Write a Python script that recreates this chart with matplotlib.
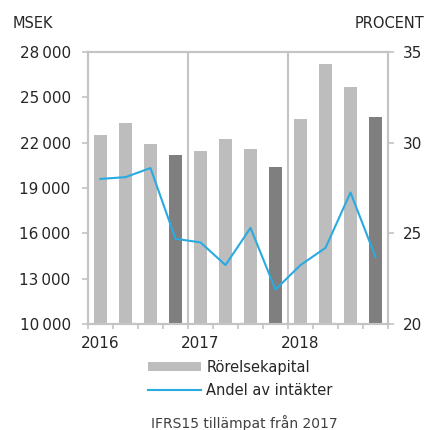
import matplotlib
matplotlib.use("Agg")
import matplotlib.pyplot as plt
from matplotlib.patches import Patch
from matplotlib.lines import Line2D

# quarterly data, 2016 Q1 .. 2018 Q4
quarters = ["Q1 16", "Q2 16", "Q3 16", "Q4 16",
            "Q1 17", "Q2 17", "Q3 17", "Q4 17",
            "Q1 18", "Q2 18", "Q3 18", "Q4 18"]
rorelsekapital = [22500, 23300, 21900, 21200,
                  21450, 22250, 21600, 20400,
                  23550, 27200, 25700, 23700]
andel_intakter = [28.0, 28.1, 28.6, 24.7,
                  24.5, 23.25, 25.3, 21.9,
                  23.25, 24.2, 27.25, 23.7]
year_labels = ["2016", "2017", "2018"]
left_ticks = [10000, 13000, 16000, 19000, 22000, 25000, 28000]
right_ticks = [20, 25, 30, 35]

light = "#bdbdbd"
dark = "#7f7f7f"
blue = "#29abe2"
axis_col = "#c4c4c4"
txt = "#262626"

plt.rcParams["font.family"] = ["DejaVu Sans"]

fig = plt.figure(figsize=(4.29, 4.30), dpi=100)
ax = fig.add_axes([88 / 429, 1 - 324 / 430, 300 / 429, 272 / 430])

x = list(range(len(quarters)))
colors = [dark if i % 4 == 3 else light for i in x]
ax.bar(x, rorelsekapital, width=0.52, color=colors, zorder=2)

ax.set_xlim(-0.5, len(quarters) - 0.5)
ax.set_ylim(10000, 28000)
ax.set_yticks(left_ticks)
ax.set_yticklabels([f"{v:,}".replace(",", "\u2009") for v in left_ticks])
ax.set_xticks([0, 4, 8])
ax.set_xticklabels(year_labels)
ax.set_xticks([i - 0.5 for i in range(len(quarters) + 1)], minor=True)
ax.tick_params(axis="x", which="major", length=0, pad=9, labelsize=11, colors=txt)
ax.tick_params(axis="x", which="minor", length=3.5, width=1.2, color=axis_col)
ax.tick_params(axis="y", length=4.5, width=1.2, color=axis_col, labelsize=11,
               labelcolor=txt, pad=8)

for s in ax.spines.values():
    s.set_color(axis_col)
    s.set_linewidth(1.5)

for sep in [3.5, 7.5]:
    ax.axvline(sep, color=axis_col, lw=1.5, zorder=1)

ax2 = ax.twinx()
ax2.plot(x, andel_intakter, color=blue, lw=1.5, zorder=3)
ax2.set_ylim(20, 35)
ax2.set_yticks(right_ticks)
ax2.tick_params(axis="y", length=4.5, width=1.2, color=axis_col, labelsize=11,
                labelcolor=txt, pad=6)
for s in ax2.spines.values():
    s.set_color(axis_col)
    s.set_linewidth(1.5)

fig.text(13 / 429, 1 - 23 / 430, "MSEK", fontsize=10.5, color=txt, va="center")
fig.text(424 / 429, 1 - 23 / 430, "PROCENT", fontsize=10.5, color=txt,
         va="center", ha="right")

handles = [Patch(facecolor=light, edgecolor="none"),
           Line2D([], [], color=blue, lw=1.5)]
fig.legend(handles, ["Rörelsekapital", "Andel av intäkter"],
           loc="upper left", bbox_to_anchor=(148 / 429, 1 - 360 / 430),
           frameon=False, fontsize=10.5, handlelength=3.6, handleheight=0.55,
           handletextpad=0.4, borderpad=0, borderaxespad=0, labelspacing=0.55,
           labelcolor=txt)

fig.text(244 / 429, 1 - 423 / 430, "IFRS15 tillämpat från 2017", fontsize=10,
         color="#404040", ha="center", va="center")

fig.savefig("out.png", dpi=100)
